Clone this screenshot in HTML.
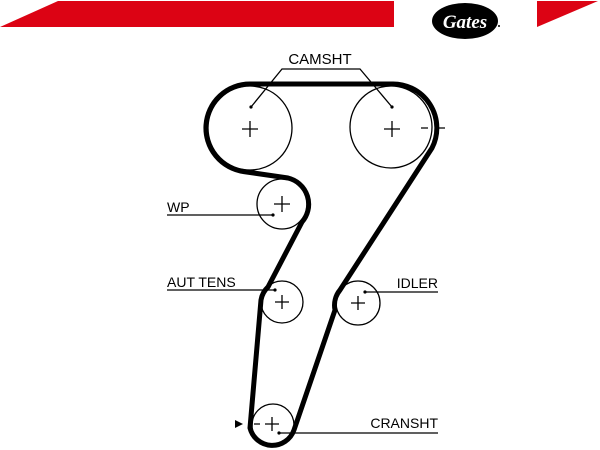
<!DOCTYPE html>
<html><head><meta charset="utf-8"><style>
html,body{margin:0;padding:0;background:#fff;}
svg{display:block;}
text{font-family:"Liberation Sans",sans-serif;fill:#000;}
</style></head><body>
<svg width="600" height="450" viewBox="0 0 600 450" xmlns="http://www.w3.org/2000/svg">
<rect width="600" height="450" fill="#fff"/>
<polygon points="58,1 394,1 394,27 0,27" fill="#dc0314"/>
<polygon points="537,1 598,1 537,27" fill="#dc0314"/>
<ellipse cx="465" cy="21" rx="33" ry="18" fill="#000"/>
<text x="465" y="28" font-size="19" font-style="italic" font-weight="bold" text-anchor="middle" style="fill:#fff;font-family:'Liberation Serif',serif">Gates</text>
<circle cx="499" cy="26" r="1" fill="#000"/>

<g fill="none" stroke="#000" stroke-width="1.3">
<circle cx="250" cy="128" r="42"/>
<circle cx="391" cy="127" r="41"/>
<circle cx="282" cy="204" r="25"/>
<circle cx="282" cy="302" r="21"/>
<circle cx="358" cy="303" r="22"/>
<circle cx="273" cy="425" r="21"/>
<path d="M242 129h16M250 121v16 M384 129h16M392 121v16 M274 204h16M282 196v16 M275 302h14M282 295v14 M351 303h14M358 296v14 M265 424h14M272 417v14"/>
<path d="M421 128h7M438 128h7 M254 424h6"/>
<path d="M251 107L282 69H360L392 107"/>
<path d="M167 215H273 M167 290H275 M365 292H438 M279 433H438"/>
</g>
<g fill="#000">
<circle cx="251" cy="107" r="1.6"/><circle cx="392" cy="107" r="1.6"/>
<circle cx="273" cy="215" r="1.6"/><circle cx="275" cy="290" r="1.6"/>
<circle cx="365" cy="292" r="1.6"/><circle cx="279" cy="433" r="1.6"/>
<polygon points="235,420 243,424 235,428"/>
</g>

<path d="M250 84 L391 84 A44 44 0 0 1 432 148 L340 290 A24 24 0 0 0 335 310 L294 430 A23 23 0 0 1 250 428 L261 300 A23 23 0 0 1 268 287 L302 222 A27 27 0 0 0 288 178 L244 171.6 A44 44 0 0 1 250 84 Z" fill="none" stroke="#000" stroke-width="5" stroke-linejoin="round"/>

<text x="320" y="64" font-size="15" text-anchor="middle">CAMSHT</text>
<text x="167" y="212" font-size="14">WP</text>
<text x="167" y="287" font-size="14">AUT TENS</text>
<text x="438" y="288" font-size="14" text-anchor="end">IDLER</text>
<text x="438" y="428" font-size="14" text-anchor="end">CRANSHT</text>
</svg>
</body></html>
